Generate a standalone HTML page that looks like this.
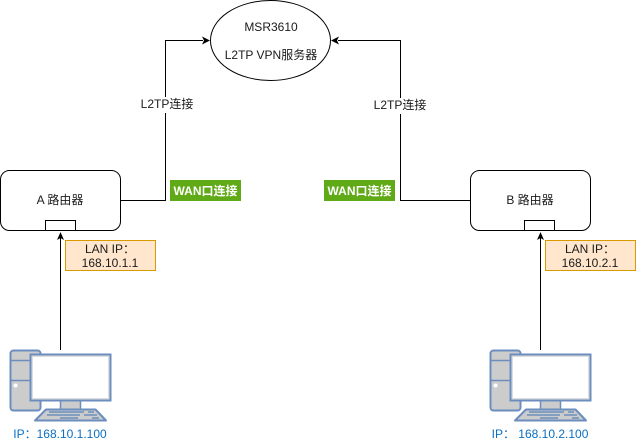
<!DOCTYPE html>
<html><head><meta charset="utf-8"><style>
html,body{margin:0;padding:0;background:#fff}
svg{display:block}
text{font-family:"Liberation Sans","Noto Sans CJK SC",sans-serif;font-size:12px;fill:#1a1a1a;text-anchor:middle}
.w{font-weight:bold;fill:#fff}
.b{fill:#0a6fc2}
</style></head><body>
<svg width="636" height="441" viewBox="0 0 636 441" xmlns="http://www.w3.org/2000/svg">
<defs>
<g id="pc">
<rect x="10.5" y="350.500" width="30" height="60" rx="3" fill="#ccc" stroke="#6c8ebf" stroke-width="2"/>
<path d="M10.500 360.500H40.500M10.500 380.500H40.500" stroke="#6c8ebf" stroke-width="1.500" fill="none"/>
<circle cx="15.500" cy="385.500" r="2" fill="#fff"/>
<rect x="60.500" y="400" width="20" height="10" fill="#ccc" stroke="#6c8ebf" stroke-width="1.500"/>
<rect x="30.500" y="354.500" width="80" height="46" fill="#ddd" stroke="#6c8ebf" stroke-width="2"/>
<rect x="33" y="357" width="75" height="41" fill="#fff"/>
<path d="M46 409.500H95.500L106 420.500H35Z" fill="#ccc" stroke="#6c8ebf" stroke-width="2" stroke-linejoin="round"/>
<path d="M49 412H84M88 412H94M47 415H80M84 415H97M60 418H78M92 418H99" stroke="#6c8ebf" stroke-width="1.500" fill="none"/>
</g>
</defs>
<g fill="none" stroke="#000">
<rect x="0.500" y="170.500" width="120" height="60" rx="9" fill="#fff"/>
<rect x="45.500" y="220.500" width="30" height="10" fill="#fff"/>
<rect x="470.500" y="170.500" width="120" height="60" rx="9" fill="#fff"/>
<rect x="524.500" y="220.500" width="30" height="10" fill="#fff"/>
<ellipse cx="270.500" cy="40.500" rx="60" ry="40" fill="#fff"/>
<path d="M120.500 200.500H165.500V40.500H203"/>
<path d="M470.500 200.500H400.500V40.500H338"/>
<path d="M60.500 350V238"/>
<path d="M540.500 350V238"/>
</g>
<g fill="#000">
<path d="M210 40.500L202 36.500L204 40.500L202 44.500Z"/>
<path d="M331 40.500L339 36.500L337 40.500L339 44.500Z"/>
<path d="M60.500 232L64 240L60.500 238L57 240Z"/>
<path d="M540.500 232L544 240L540.500 238L537 240Z"/>
</g>
<rect x="141" y="97" width="50" height="16" fill="#fff"/>
<rect x="373" y="98" width="54" height="16" fill="#fff"/>
<text x="271" y="31">MSR3610</text>
<text x="271" y="59">L2TP VPN服务器</text>
<text x="167" y="108">L2TP连接</text>
<text x="400" y="109">L2TP连接</text>
<text x="60" y="204">A 路由器</text>
<text x="530" y="204">B 路由器</text>
<rect x="170" y="180" width="71" height="21" fill="#60a917"/>
<rect x="324" y="180" width="71" height="21" fill="#60a917"/>
<text x="205.500" y="195" class="w">WAN口连接</text>
<text x="359.500" y="195" class="w">WAN口连接</text>
<rect x="65.500" y="240.500" width="90" height="30" fill="#ffe6cc" stroke="#d79b00"/>
<rect x="545.500" y="240.500" width="90" height="30" fill="#ffe6cc" stroke="#d79b00"/>
<text x="110" y="253">LAN IP：</text>
<text x="110" y="267">168.10.1.1</text>
<text x="590" y="253">LAN IP：</text>
<text x="590" y="267">168.10.2.1</text>
<use href="#pc"/>
<use href="#pc" x="480"/>
<text x="60" y="438" class="b">IP：168.10.1.100</text>
<text x="540" y="438" class="b">IP： 168.10.2.100</text>
</svg>
</body></html>
